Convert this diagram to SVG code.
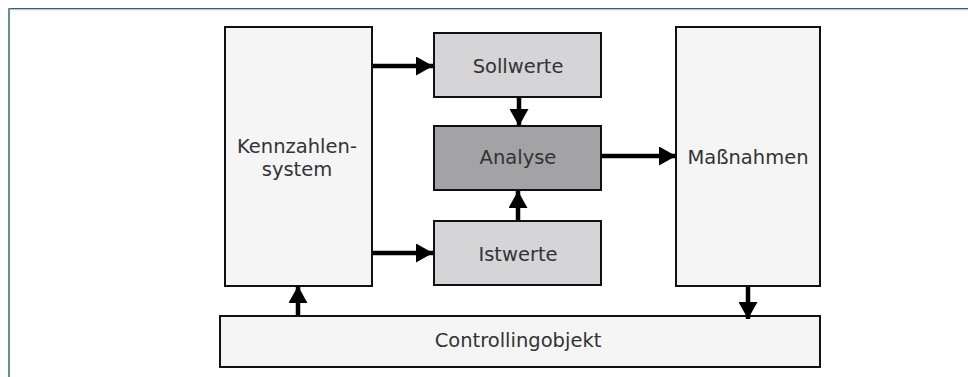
<svg xmlns="http://www.w3.org/2000/svg" width="968" height="377" viewBox="0 0 968 377">
<style>
.box{stroke:#111;stroke-width:2}
.light{fill:#f5f5f5}
.mid{fill:#d5d4d7}
.dark{fill:#a3a2a5}
text{font-family:"DejaVu Sans",Verdana,sans-serif;font-size:19.5px;fill:#333;text-anchor:middle}
.conn line{stroke:#000;stroke-width:4.5;marker-end:url(#ah)}
</style>
<defs>
<marker id="ah" markerUnits="userSpaceOnUse" markerWidth="17" markerHeight="19" viewBox="0 0 17 19" refX="17" refY="9.5" orient="auto">
<path d="M0,0 L17,9.5 L0,19 z" fill="#000"/>
</marker>
</defs>
<rect x="0" y="0" width="968" height="377" fill="#fff"/>
<g id="frame">
<rect x="8" y="8" width="960" height="1.2" fill="#2b6670"/>
<rect x="8" y="9.2" width="960" height="1" fill="#b4c8cd"/>
<rect x="8" y="8" width="2" height="369" fill="#62909a"/>
</g>
<g id="kennzahlensystem">
<rect class="box light" x="225" y="27" width="147" height="259"/>
<text x="297" y="153">Kennzahlen-</text>
<text x="297" y="176">system</text>
</g>
<g id="sollwerte">
<rect class="box mid" x="434" y="33" width="167" height="64"/>
<text x="518" y="73">Sollwerte</text>
</g>
<g id="analyse">
<rect class="box dark" x="434" y="126" width="167" height="64"/>
<text x="518" y="164">Analyse</text>
</g>
<g id="istwerte">
<rect class="box mid" x="434" y="221" width="167" height="64"/>
<text x="518" y="261">Istwerte</text>
</g>
<g id="massnahmen">
<rect class="box light" x="676" y="27" width="144" height="259"/>
<text x="748" y="164">Maßnahmen</text>
</g>
<g id="controllingobjekt">
<rect class="box light" x="220" y="316" width="600" height="51"/>
<text x="518" y="347">Controllingobjekt</text>
</g>
<g class="conn" id="connectors">
<line x1="373" y1="66" x2="433" y2="66"/>
<line x1="373" y1="253" x2="433" y2="253"/>
<line x1="519" y1="98" x2="519" y2="126"/>
<line x1="518" y1="220" x2="518" y2="191"/>
<line x1="602" y1="156" x2="676" y2="156"/>
<line x1="748" y1="287" x2="748" y2="319"/>
<line x1="298" y1="315" x2="298" y2="286"/>
</g>
</svg>
